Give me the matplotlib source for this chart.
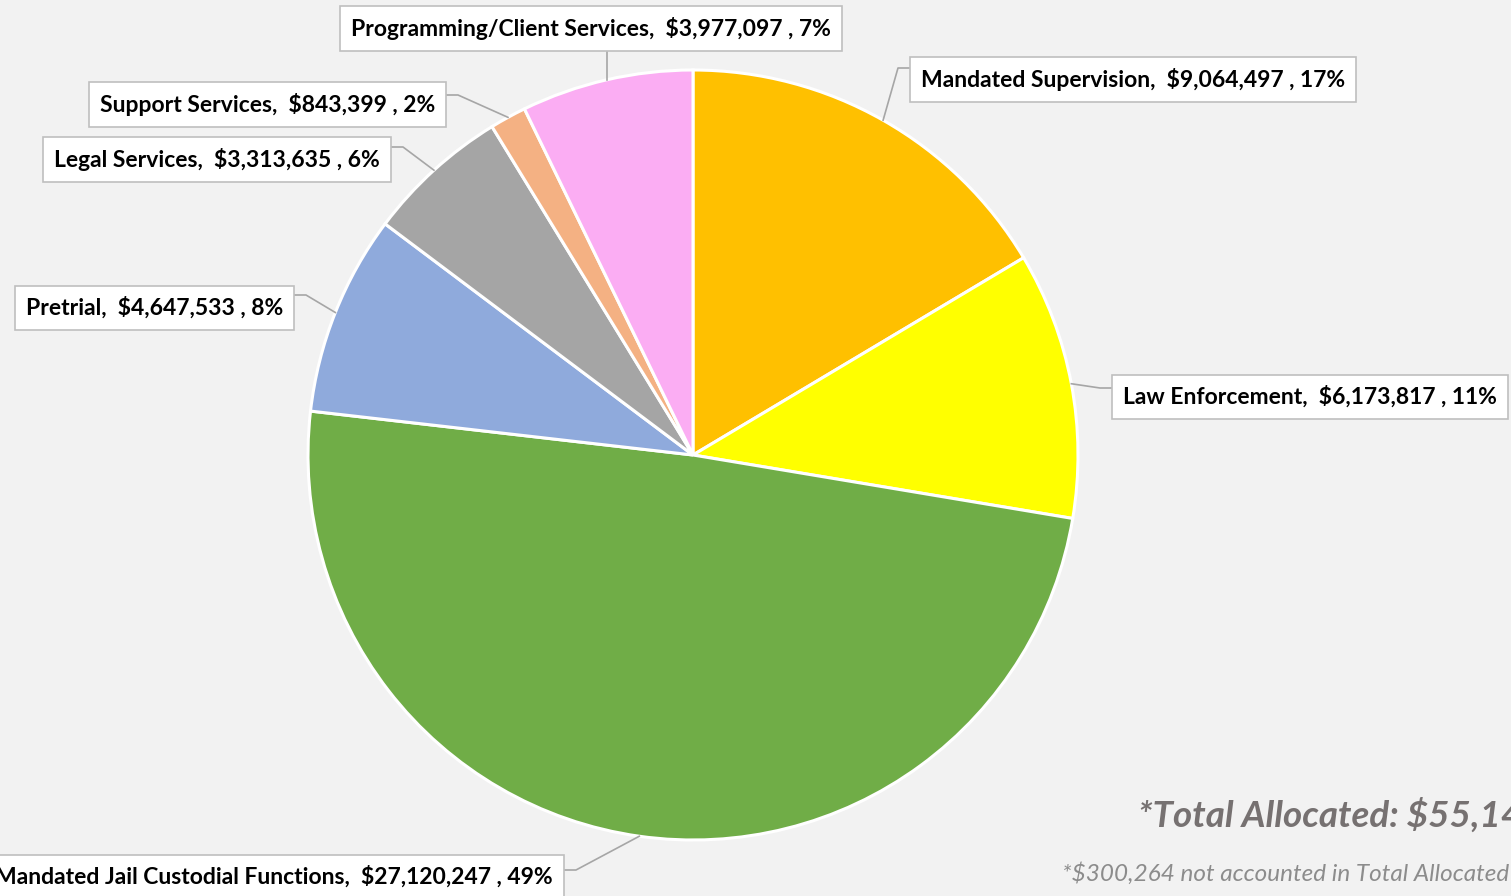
import numpy as np
import matplotlib
matplotlib.use("Agg")
from matplotlib import pyplot as plt

# data
categories = ["Mandated Supervision", "Law Enforcement", "Mandated Jail Custodial Functions",
              "Pretrial", "Legal Services", "Support Services", "Programming/Client Services"]
values = [9064497, 6173817, 27120247, 4647533, 3313635, 843399, 3977097]
pct_labels = ["17%", "11%", "49%", "8%", "6%", "2%", "7%"]
colors = ["#FFC000", "#FFFF00", "#70AD47", "#8FAADC", "#A5A5A5", "#F4B183", "#FBADF3"]

total_note = "*Total Allocated: $55,140,225"
unaccounted_note = "*$300,264 not accounted in Total Allocated"

plt.rcParams['font.family'] = ['Lato', 'DejaVu Sans']

W, H = 1511, 896
fig = plt.figure(figsize=(W / 100, H / 100), dpi=100, facecolor="#F2F2F2")
ax = fig.add_axes([0, 0, 1, 1])
ax.set_facecolor("#F2F2F2")

cx, cy, r = 693, H - 455, 385
wedges, _ = ax.pie(values, colors=colors, startangle=90, counterclock=False,
                   center=(cx, cy), radius=r, frame=True,
                   wedgeprops=dict(edgecolor="white", linewidth=2.2))
ax.set_xlim(0, W)
ax.set_ylim(0, H)
ax.set_aspect('equal')
ax.axis('off')

# label layout: (anchor x, anchor y from top, ha, attach side)
layout = [
    (921, 79, 'left', 'left'),      # Mandated Supervision
    (1123, 397, 'left', 'left'),    # Law Enforcement
    (553, 877, 'right', 'right'),   # Jail
    (283, 308, 'right', 'right'),   # Pretrial
    (380, 159, 'right', 'right'),   # Legal
    (435, 104, 'right', 'right'),   # Support
    (591, 28, 'center', 'bottom'),  # Programming
]
stub_y = [68, 388, 870, 295, 147, 95, None]

pad = 0.48
fs = 16.5
padpx = pad * fs * 100 / 72
for i, w in enumerate(wedges):
    label = f"{categories[i]},  ${values[i]:,} , {pct_labels[i]}"
    tx, ty, ha, side = layout[i]
    ax.text(tx, H - ty, label, ha=ha, va='center', fontsize=fs, fontweight='bold',
            color='black', zorder=5,
            bbox=dict(boxstyle=f"square,pad={pad}", fc='white', ec='#BFBFBF', lw=1.2))
    mid = np.deg2rad((w.theta1 + w.theta2) / 2)
    px = cx + r * np.cos(mid)
    py = cy + r * np.sin(mid)
    if side == 'bottom':
        ax.plot([px, px], [H - 52, py], color='#A6A6A6', lw=1.2, zorder=4)
    elif side == 'left':
        ex = tx - padpx
        sy = H - stub_y[i]
        ax.plot([ex, ex - 12, px], [sy, sy, py], color='#A6A6A6', lw=1.2, zorder=4)
    else:
        ex = tx + padpx
        sy = H - stub_y[i]
        ax.plot([ex, ex + 12, px], [sy, sy, py], color='#A6A6A6', lw=1.2, zorder=4)

ax.text(1138, H - 815, total_note, ha='left', va='center', fontsize=26.5,
        fontweight='bold', fontstyle='italic', color='#767171')
ax.text(1062, H - 873, unaccounted_note, ha='left', va='center', fontsize=17.5,
        fontstyle='italic', color='#8C8C8C')

plt.savefig("out.png", dpi=100, facecolor=fig.get_facecolor())
